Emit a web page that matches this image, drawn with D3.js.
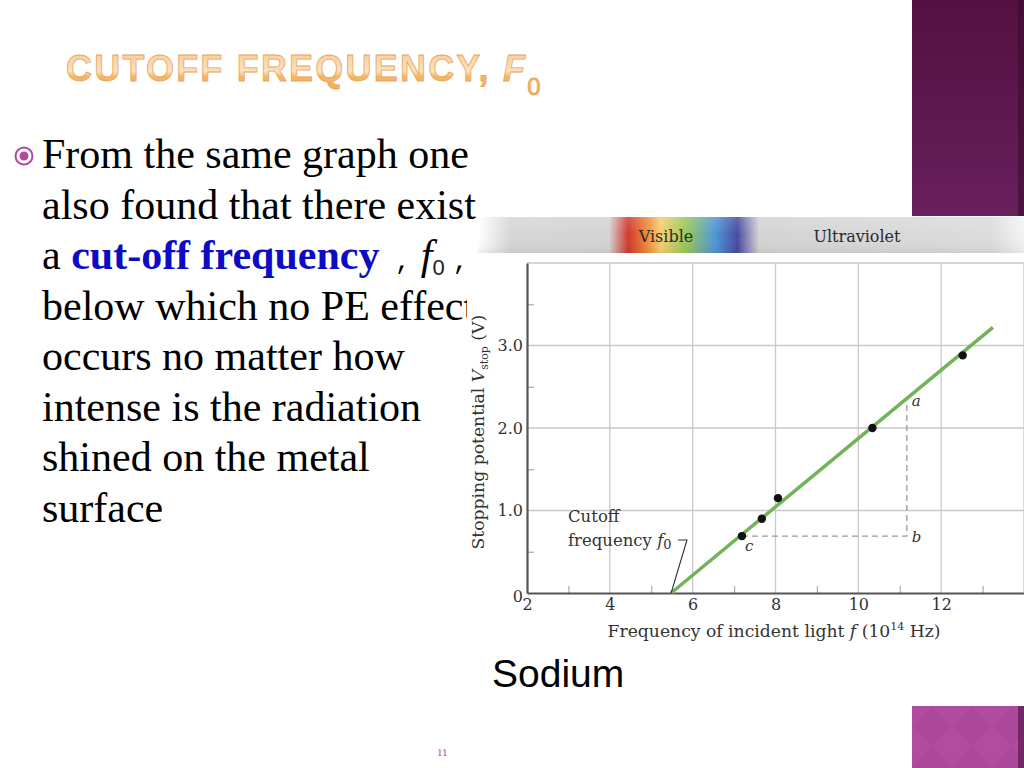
<!DOCTYPE html>
<html>
<head>
    <title>Cutoff Frequency</title>
    <script src="https://d3js.org/d3.v7.min.js"></script>
    <style>
        body { margin: 0; padding: 0; background: #fff; }
        svg { display: block; }
        .serif { font-family: "Liberation Serif", "Times New Roman", serif; }
        .chart-text { font-family: "DejaVu Serif", serif; fill: #333; }
    </style>
</head>
<body>
<div id="slide"></div>
<script>
    // Data
    const pointsF = [7.19, 7.67, 8.06, 10.34, 12.52];   // frequency (10^14 Hz)
    const pointsV = [0.69, 0.90, 1.15, 2.00, 2.88];     // stopping potential (V)
    const fitF = [5.48, 13.25];
    const fitV = [0, 3.22];
    const slopeF = [7.19, 11.17, 11.17];   // c, b, a
    const slopeV = [0.69, 0.69, 2.36];
    const slopeNames = ['c', 'b', 'a'];
    const xTicks = [2, 4, 6, 8, 10, 12];
    const xTickLabels = ['2', '4', '6', '8', '10', '12'];
    const xMinor = [3, 5, 7, 9, 11, 13];
    const yTicks = [0, 1, 2, 3];
    const yTickLabels = ['0', '1.0', '2.0', '3.0'];
    const yMinor = [0.5, 1.5, 2.5, 3.5];
    const xGrid = [4, 6, 8, 10, 12, 14];
    const yGrid = [1, 2, 3, 4];

    const bodyLines = [
        'From the same graph one',
        'also found that there exist',
        null,
        'below which no PE effect',
        'occurs no matter how',
        'intense is the radiation',
        'shined on the metal',
        'surface'
    ];

    const svg = d3.select('#slide').append('svg')
        .attr('width', 1024)
        .attr('height', 768);

    const defs = svg.append('defs');

    // Gradients
    const titleGrad = defs.append('linearGradient')
        .attr('id', 'titleGrad').attr('x1', 0).attr('y1', 0).attr('x2', 0).attr('y2', 1);
    titleGrad.append('stop').attr('offset', '0%').attr('stop-color', '#f8c98e');
    titleGrad.append('stop').attr('offset', '45%').attr('stop-color', '#fce2bf');
    titleGrad.append('stop').attr('offset', '55%').attr('stop-color', '#f7b660');
    titleGrad.append('stop').attr('offset', '100%').attr('stop-color', '#f4a94a');

    const barGrad = defs.append('linearGradient')
        .attr('id', 'barGrad').attr('x1', 0).attr('y1', 0).attr('x2', 0).attr('y2', 1);
    barGrad.append('stop').attr('offset', '0%').attr('stop-color', '#521140');
    barGrad.append('stop').attr('offset', '100%').attr('stop-color', '#68205c');

    const specGrad = defs.append('linearGradient')
        .attr('id', 'specGrad').attr('x1', 0).attr('y1', 0).attr('x2', 1).attr('y2', 0);
    [
        ['0%', '#ffffff'], ['6%', '#d6d6d6'], ['24%', '#d4d4d4'],
        ['27.5%', '#d03a2c'], ['31%', '#f08a3a'], ['33.5%', '#f4d070'],
        ['38%', '#9cc85a'], ['43.5%', '#4d96d8'], ['47.5%', '#4a4aa0'],
        ['51.5%', '#d4d4d4'], ['94%', '#dcdcdc'], ['100%', '#f4f4f4']
    ].forEach(s => specGrad.append('stop').attr('offset', s[0]).attr('stop-color', s[1]));

    const specShade = defs.append('linearGradient')
        .attr('id', 'specShade').attr('x1', 0).attr('y1', 0).attr('x2', 0).attr('y2', 1);
    specShade.append('stop').attr('offset', '0%').attr('stop-color', '#fff').attr('stop-opacity', 0.15);
    specShade.append('stop').attr('offset', '50%').attr('stop-color', '#fff').attr('stop-opacity', 0);
    specShade.append('stop').attr('offset', '100%').attr('stop-color', '#000').attr('stop-opacity', 0.06);

    const diamond = defs.append('pattern')
        .attr('id', 'diamond').attr('patternUnits', 'userSpaceOnUse')
        .attr('width', 40).attr('height', 40).attr('x', 912).attr('y', 706);
    diamond.append('rect').attr('width', 40).attr('height', 40).attr('fill', '#b14c9f');
    diamond.append('path').attr('d', 'M20 0 L40 20 L20 40 L0 20 Z').attr('fill', '#ac4899');

    // Bullet text block
    const textG = svg.append('g').attr('class', 'serif')
        .attr('font-size', 42).attr('fill', '#000');

    bodyLines.forEach((line, i) => {
        const t = textG.append('text')
            .attr('x', 42)
            .attr('y', 168 + i * 50.5);
        if (line !== null) {
            t.text(line);
        } else {
            t.append('tspan').text('a ');
            t.append('tspan').attr('font-weight', 'bold').attr('fill', '#0c0cc4').text('cut-off frequency');
            t.append('tspan').attr('font-family', 'Liberation Mono, monospace').attr('font-size', 26).text(' ,');
            t.append('tspan').attr('font-style', 'italic').attr('dx', 10).text('f');
            t.append('tspan').attr('font-family', 'Liberation Sans, sans-serif')
                .attr('font-size', 22).attr('dy', 6).attr('fill', '#222').text('0');
            t.append('tspan').attr('font-family', 'Liberation Mono, monospace').attr('font-size', 26)
                .attr('dx', 8).attr('dy', -6).text(',');
        }
    });

    // bullet mark
    svg.append('circle').attr('cx', 24).attr('cy', 156).attr('r', 8.5)
        .attr('fill', 'none').attr('stroke', '#b04a9f').attr('stroke-width', 2);
    svg.append('circle').attr('cx', 24).attr('cy', 156).attr('r', 4.5)
        .attr('fill', '#b04a9f');

    // Chart picture background (covers the overflowing text)
    svg.append('rect').attr('x', 467).attr('y', 256)
        .attr('width', 557).attr('height', 396).attr('fill', '#fff');

    // Spectrum band
    svg.append('rect').attr('x', 478).attr('y', 217)
        .attr('width', 546).attr('height', 36).attr('fill', 'url(#specGrad)');
    svg.append('rect').attr('x', 478).attr('y', 217)
        .attr('width', 546).attr('height', 36).attr('fill', 'url(#specShade)');
    svg.append('text').attr('class', 'chart-text').attr('x', 666).attr('y', 242)
        .attr('text-anchor', 'middle').attr('font-size', 16).style('fill', '#2a2a2a').text('Visible');
    svg.append('text').attr('class', 'chart-text').attr('x', 857).attr('y', 242)
        .attr('text-anchor', 'middle').attr('font-size', 16).style('fill', '#2a2a2a').text('Ultraviolet');

    // Scales
    const x = d3.scaleLinear().domain([2, 14]).range([527, 1024]);
    const y = d3.scaleLinear().domain([0, 4]).range([593, 263]);

    const plot = svg.append('g');

    // Grid
    plot.selectAll('.vgrid').data(xGrid).enter().append('line')
        .attr('x1', d => x(d)).attr('x2', d => x(d))
        .attr('y1', y(0)).attr('y2', y(4))
        .attr('stroke', '#c9c9c9').attr('stroke-width', 1.3);
    plot.selectAll('.hgrid').data(yGrid).enter().append('line')
        .attr('x1', x(2)).attr('x2', x(14))
        .attr('y1', d => y(d)).attr('y2', d => y(d))
        .attr('stroke', '#c9c9c9').attr('stroke-width', 1.3);

    // Minor ticks
    const xMinorAxis = plot.append('g')
        .attr('transform', `translate(0,${y(0)})`)
        .call(d3.axisBottom(x).tickValues(xMinor).tickSize(-7).tickFormat(''));
    xMinorAxis.select('.domain').remove();
    xMinorAxis.selectAll('line').attr('stroke', '#aaa').attr('stroke-width', 1.2);

    const yMinorAxis = plot.append('g')
        .attr('transform', `translate(${x(2)},0)`)
        .call(d3.axisLeft(y).tickValues(yMinor).tickSize(-7).tickFormat(''));
    yMinorAxis.select('.domain').remove();
    yMinorAxis.selectAll('line').attr('stroke', '#aaa').attr('stroke-width', 1.2);

    // Main axes
    const xAxis = plot.append('g')
        .attr('transform', `translate(0,${y(0)})`)
        .call(d3.axisBottom(x).tickValues(xTicks).tickSize(0).tickSizeOuter(0).tickPadding(6)
            .tickFormat((d, i) => xTickLabels[i]));
    xAxis.select('.domain').attr('stroke', '#555').attr('stroke-width', 2.2);
    xAxis.selectAll('text').attr('class', 'chart-text').attr('font-size', 16);

    const yAxis = plot.append('g')
        .attr('transform', `translate(${x(2)},0)`)
        .call(d3.axisLeft(y).tickValues(yTicks).tickSize(0).tickSizeOuter(0).tickPadding(4)
            .tickFormat((d, i) => yTickLabels[i]));
    yAxis.select('.domain').attr('stroke', '#555').attr('stroke-width', 2.2);
    yAxis.selectAll('text').attr('class', 'chart-text').attr('font-size', 16);
    yAxis.selectAll('.tick').filter(d => d === 0).select('text')
        .attr('x', -4).attr('dy', '0.55em');

    // Axis titles
    const yTitle = plot.append('text').attr('class', 'chart-text')
        .attr('font-size', 17.2)
        .attr('text-anchor', 'middle')
        .attr('transform', `translate(484,${y(1.95)}) rotate(-90)`);
    yTitle.append('tspan').text('Stopping potential ');
    yTitle.append('tspan').attr('font-style', 'italic').text('V');
    yTitle.append('tspan').attr('font-size', 11).attr('dy', 4).text('stop');
    yTitle.append('tspan').attr('dy', -4).text(' (V)');

    const xTitle = plot.append('text').attr('class', 'chart-text')
        .attr('font-size', 17.2)
        .attr('text-anchor', 'middle')
        .attr('x', 774).attr('y', 637);
    xTitle.append('tspan').text('Frequency of incident light ');
    xTitle.append('tspan').attr('font-style', 'italic').text('f');
    xTitle.append('tspan').text(' (10');
    xTitle.append('tspan').attr('font-size', 11).attr('dy', -7).text('14');
    xTitle.append('tspan').attr('dy', 7).text(' Hz)');

    // Slope triangle (dashed)
    const tri = d3.line().x((d, i) => x(slopeF[i])).y((d, i) => y(slopeV[i]));
    plot.append('path')
        .attr('d', tri(slopeF))
        .attr('fill', 'none').attr('stroke', '#9a9a9a')
        .attr('stroke-width', 1.3).attr('stroke-dasharray', '6,4');

    // Fit line
    const fit = d3.line().x((d, i) => x(fitF[i])).y((d, i) => y(fitV[i]));
    plot.append('path')
        .attr('d', fit(fitF))
        .attr('fill', 'none').attr('stroke', '#72b35a').attr('stroke-width', 3.5);

    // Data points
    plot.selectAll('.pt').data(pointsF).enter().append('circle')
        .attr('cx', d => x(d))
        .attr('cy', (d, i) => y(pointsV[i]))
        .attr('r', 4.2).attr('fill', '#111');

    // a, b, c labels
    const labelOffsets = { c: [3, 15], b: [5, 6], a: [5, 8] };
    plot.selectAll('.lbl').data(slopeNames).enter().append('text')
        .attr('class', 'chart-text')
        .attr('font-size', 15).attr('font-style', 'italic')
        .attr('x', (d, i) => x(slopeF[i]) + labelOffsets[d][0])
        .attr('y', (d, i) => y(slopeV[i]) + labelOffsets[d][1])
        .text(d => d);

    // Cutoff annotation
    plot.append('text').attr('class', 'chart-text').attr('font-size', 16.5)
        .attr('x', 568).attr('y', 522).text('Cutoff');
    const fq = plot.append('text').attr('class', 'chart-text').attr('font-size', 16.5)
        .attr('x', 568).attr('y', 546);
    fq.append('tspan').text('frequency ');
    fq.append('tspan').attr('font-style', 'italic').text('f');
    fq.append('tspan').attr('font-size', 13).attr('dy', 3).text('0');
    plot.append('path')
        .attr('d', `M678,540 L687,540 L${x(fitF[0])},${y(0)}`)
        .attr('fill', 'none').attr('stroke', '#333').attr('stroke-width', 1.1);

    // Purple decorations
    svg.append('rect').attr('x', 912).attr('y', 0)
        .attr('width', 112).attr('height', 216).attr('fill', 'url(#barGrad)');
    svg.append('rect').attr('x', 1018).attr('y', 0)
        .attr('width', 6).attr('height', 216).attr('fill', '#3c0b2f').attr('opacity', 0.6);
    svg.append('rect').attr('x', 912).attr('y', 706)
        .attr('width', 112).attr('height', 62).attr('fill', 'url(#diamond)');
    svg.append('rect').attr('x', 1018).attr('y', 706)
        .attr('width', 6).attr('height', 62).attr('fill', '#5a1a4e').attr('opacity', 0.7);

    // Caption and page number
    svg.append('text').attr('x', 492).attr('y', 687)
        .attr('font-family', 'Liberation Sans, Arial, sans-serif')
        .attr('font-size', 39).attr('fill', '#000').text('Sodium');
    svg.append('text').attr('x', 437).attr('y', 756)
        .attr('class', 'serif').attr('font-size', 11).attr('fill', '#b04a9f').text('11');

    // Title
    const title = svg.append('text')
        .attr('x', 66).attr('y', 81)
        .attr('font-family', 'Liberation Sans, Arial, sans-serif')
        .attr('font-weight', 'bold').attr('font-size', 36)
        .attr('letter-spacing', 2.2)
        .attr('fill', 'url(#titleGrad)')
        .attr('stroke', '#e5a766').attr('stroke-width', 0.8);
    title.append('tspan').text('CUTOFF FREQUENCY, ');
    title.append('tspan').attr('font-style', 'italic').text('F');
    title.append('tspan').attr('font-weight', 'normal').attr('font-size', 24)
        .attr('dy', 14).text('0');
</script>
</body>
</html>
